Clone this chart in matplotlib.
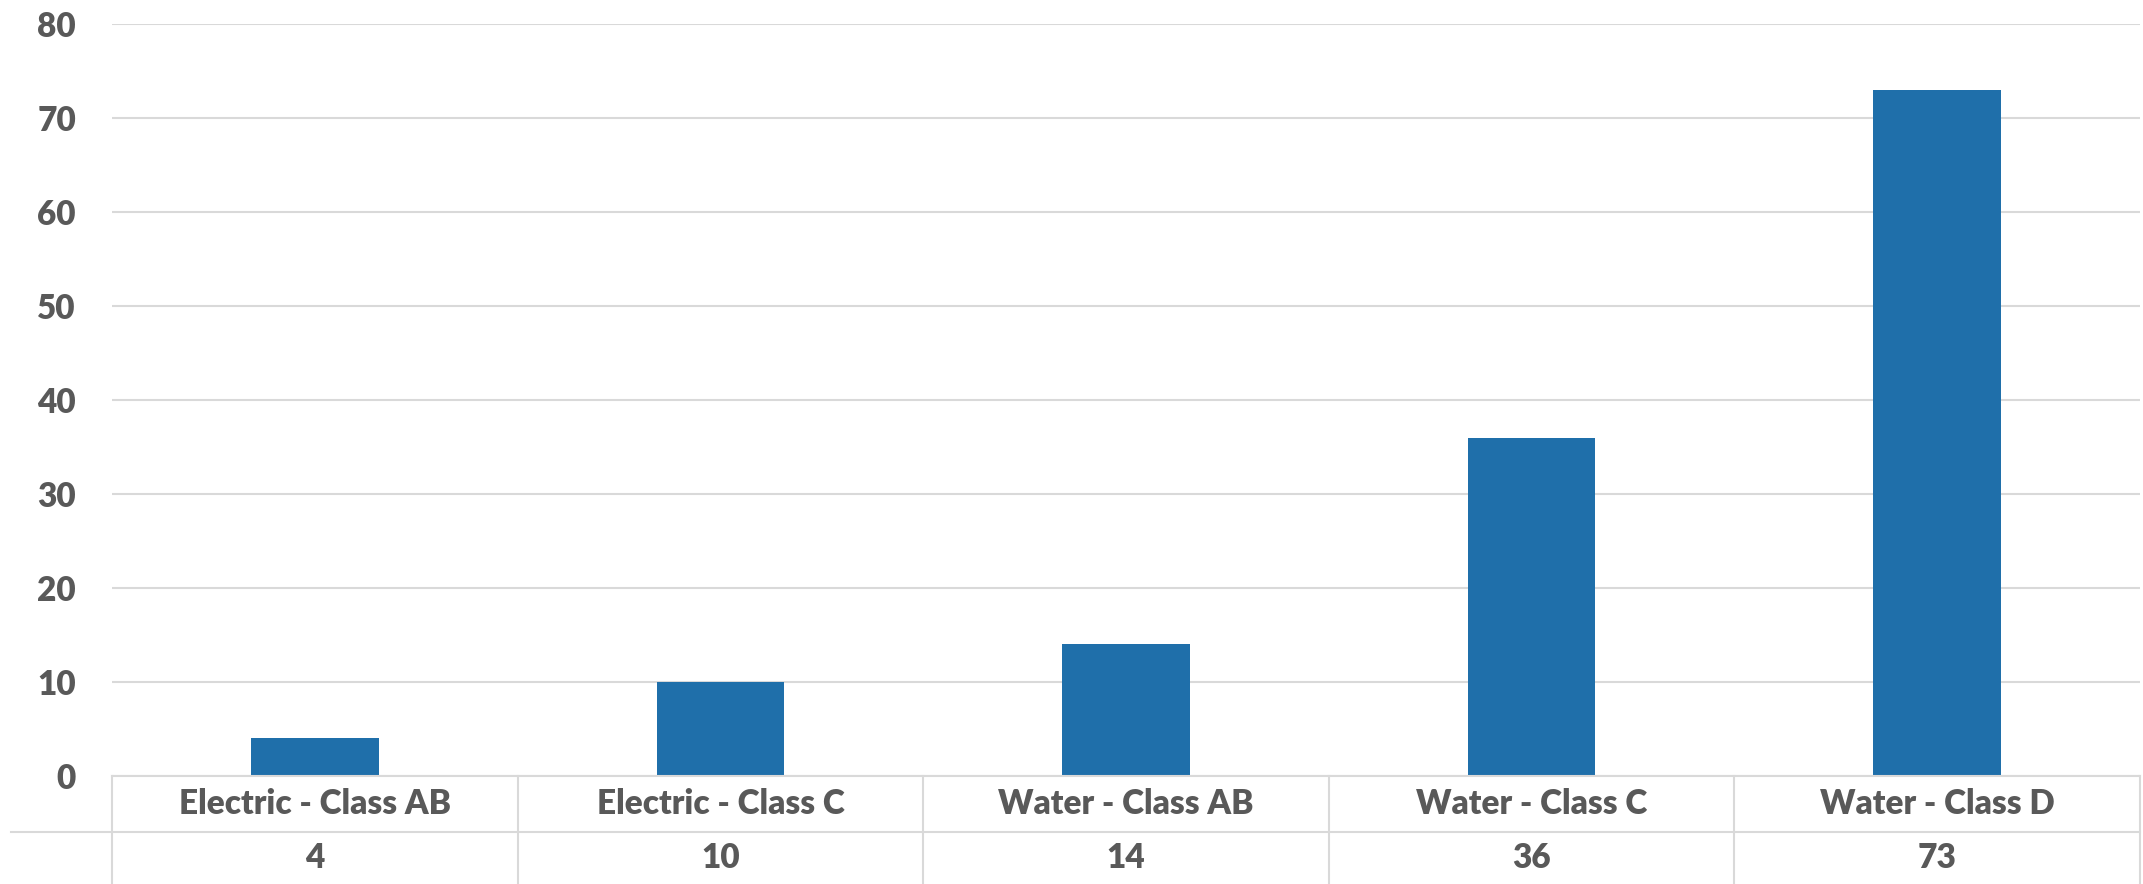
import matplotlib.pyplot as plt
from matplotlib.lines import Line2D

categories = ['Electric - Class AB', 'Electric - Class C', 'Water - Class AB',
              'Water - Class C', 'Water - Class D']
values = [4, 10, 14, 36, 73]
yticks = [0, 10, 20, 30, 40, 50, 60, 70, 80]

bar_color = '#1F6FAA'
grid_color = '#D9D9D9'
text_color = '#595959'
font = 'Lato'
fsize = 24

W, H = 2143, 884
fig = plt.figure(figsize=(W / 100, H / 100), dpi=100)

left, right = 112 / W, 2140 / W
top, bottom = 1 - 24 / H, 1 - 776 / H
ax = fig.add_axes([left, bottom, right - left, top - bottom])

x = range(len(categories))
ax.bar(x, values, width=0.315, color=bar_color, zorder=3)
ax.set_xlim(-0.5, len(categories) - 0.5)
ax.set_ylim(0, 80)
ax.set_yticks(yticks)
ax.set_yticklabels([str(t) for t in yticks], fontsize=fsize, fontweight='heavy',
                   color=text_color, family=font)
ax.tick_params(axis='y', length=0, pad=26)
ax.set_xticks([])
ax.grid(axis='y', color=grid_color, linewidth=1.5, zorder=0)
for s in ax.spines.values():
    s.set_visible(False)

# data table under the plot
tax = fig.add_axes([left, 0, right - left, bottom])
tax.set_xlim(-0.5, len(categories) - 0.5)
tax.set_ylim(0, 1)
tax.axis('off')
row_split = (H - 832) / (H - 776)

tax.axhline(1, color=grid_color, linewidth=1.5, clip_on=False)
for i in range(len(categories) + 1):
    tax.axvline(i - 0.5, color=grid_color, linewidth=1.5, clip_on=False)
# separator between the two rows runs out to the left edge
fig.add_artist(Line2D([11 / W, right], [1 - 832 / H, 1 - 832 / H],
                      color=grid_color, linewidth=1.5))

for i, (c, v) in enumerate(zip(categories, values)):
    tax.text(i, (1 + row_split) / 2, c, ha='center', va='center', fontsize=fsize,
             fontweight='heavy', color=text_color, family=font)
    tax.text(i, row_split / 2, str(v), ha='center', va='center', fontsize=fsize,
             fontweight='heavy', color=text_color, family=font)

plt.savefig('out.png', dpi=100)
